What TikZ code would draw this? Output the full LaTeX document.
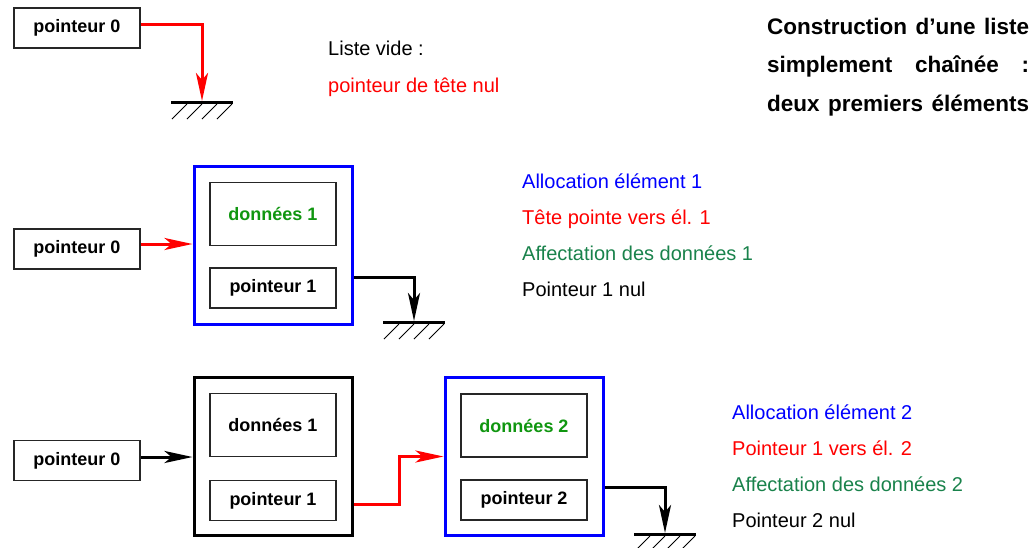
\documentclass[tikz,border=0pt]{standalone}
\usepackage{fontspec}
\setmainfont{Liberation Sans}
\usetikzlibrary{arrows.meta}
\definecolor{dgreen}{RGB}{16,150,16}
\definecolor{agreen}{RGB}{25,130,75}
\begin{document}
\begin{tikzpicture}[x=1pt,y=-1pt,
  ptr/.style={draw=black!85, line width=1.3pt, minimum width=126pt, minimum height=40pt, inner sep=0pt, font=\fontsize{18}{20}\selectfont\bfseries},
  dat/.style={ptr, minimum height=63pt},
  elem/.style={line width=3pt, minimum width=158pt, minimum height=158pt, inner sep=0pt},
  conn/.style={line width=3pt, -{Stealth[length=28pt,width=12pt,inset=7pt]}},
  lbl/.style={anchor=base west, inner sep=0pt, font=\fontsize{20}{24}\selectfont},
  ttl/.style={anchor=base west, inner sep=0pt, font=\fontsize{22.5}{26}\selectfont\bfseries},
  gnd/.pic={
    \draw[line width=3pt] (-31,1.5) -- (31,1.5);
    \foreach \dx in {-15,0,15,30} \draw[line width=1pt] (\dx,3) -- ++(-15,15);
  }
]
\clip (0,0) rectangle (1033,547);

% --- empty list
\node[ptr] (p0a) at (77,28) {pointeur 0};
\coordinate (g0) at (202,101);
\pic at (g0) {gnd};
\draw[conn, red] ([yshift=4pt]p0a.east) -| (g0);
\node[lbl] (t1) at (328,55) {Liste vide :};
\node[lbl, text=red] (t2) at (328,92) {pointeur de tête nul};

% --- title
\node[ttl] (h1) at (767,34) {\makebox[262pt][s]{Construction d’une liste}};
\node[ttl] (h2) at (767,72) {\makebox[262pt][s]{simplement chaînée :}};
\node[ttl] (h3) at (767,111) {\makebox[262pt][s]{deux premiers éléments}};

% --- first element
\node[ptr] (p0b) at (77,249) {pointeur 0};
\node[elem, draw=blue] (e1) at (273,245) {};
\node[dat, text=dgreen] (d1) at (273,214) {données 1};
\node[ptr] (q1) at (273,288) {pointeur 1};
\draw[conn, red] ([yshift=5pt]p0b.east) -- ([yshift=5pt]p0b.east -| e1.west);
\coordinate (g1) at (414,321);
\pic at (g1) {gnd};
\draw[conn] ([yshift=-32pt]e1.east) -| (g1);

\node[lbl, text=blue] (a1) at (522,188) {Allocation élément 1};
\node[lbl, text=red] (a2) at (522,224) {Tête pointe vers él. 1};
\node[lbl, text=agreen] (a3) at (522,260) {Affectation des données 1};
\node[lbl] (a4) at (522,296) {Pointeur 1 nul};

% --- second element
\node[ptr] (p0c) at (77,460.5) {pointeur 0};
\node[elem, draw=black] (e1b) at (273,456.5) {};
\node[dat] (d1b) at (273,425) {données 1};
\node[ptr] (q1b) at (273,500.5) {pointeur 1};
\draw[conn] ([yshift=3.5pt]p0c.east) -- ([yshift=3.5pt]p0c.east -| e1b.west);

\node[elem, draw=blue] (e2) at (524,456.5) {};
\node[dat, text=dgreen] (d2) at (524,425.5) {données 2};
\node[ptr] (q2) at (524,500) {pointeur 2};
\draw[conn, red] ([yshift=-47.5pt]e1b.east) -- ++(46,0) |- (e2.west);
\coordinate (g2) at (665,533);
\pic at (g2) {gnd};
\draw[conn] ([yshift=-30.5pt]e2.east) -| (g2);

\node[lbl, text=blue] (b1) at (732,419) {Allocation élément 2};
\node[lbl, text=red] (b2) at (732,455) {Pointeur 1 vers él. 2};
\node[lbl, text=agreen] (b3) at (732,491) {Affectation des données 2};
\node[lbl] (b4) at (732,527) {Pointeur 2 nul};
\end{tikzpicture}
\end{document}
